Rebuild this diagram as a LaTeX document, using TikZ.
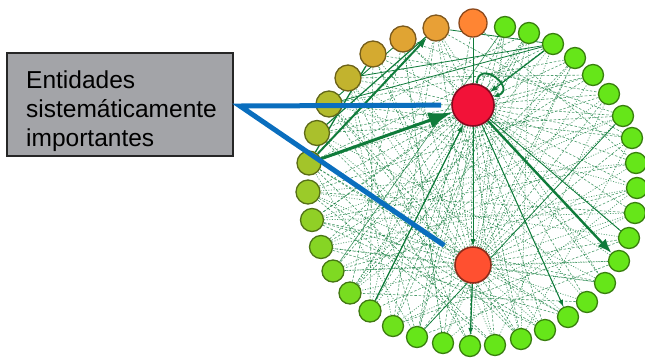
\documentclass[tikz,border=0pt]{standalone}
\usepackage{fontspec}
\setsansfont{Liberation Sans}
\usetikzlibrary{arrows.meta, backgrounds}

\definecolor{rc1}{HTML}{FF8533}
\definecolor{rc2}{HTML}{E8A036}
\definecolor{rc3}{HTML}{E0A433}
\definecolor{rc4}{HTML}{D4AA30}
\definecolor{rc5}{HTML}{C2B32E}
\definecolor{rc6}{HTML}{B3BB2D}
\definecolor{rc7}{HTML}{AAC02C}
\definecolor{rc8}{HTML}{A3C42A}
\definecolor{rc9}{HTML}{9BCB29}
\definecolor{rc10}{HTML}{90D026}
\definecolor{rc11}{HTML}{86D524}
\definecolor{rc12}{HTML}{7FD922}
\definecolor{rc13}{HTML}{78DC20}
\definecolor{rc14}{HTML}{72DF1E}
\definecolor{rc15}{HTML}{6EE21C}
\definecolor{rcg}{HTML}{66E619}
\definecolor{hubred}{HTML}{F21238}
\definecolor{hubtomato}{HTML}{FF5030}
\definecolor{linkgreen}{HTML}{0F7B3A}
\definecolor{pointblue}{HTML}{0A6EBE}
\definecolor{boxgray}{HTML}{A3A4A8}

\tikzset{
  ringnode/.style={circle, draw=#1!55!black, fill=#1, line width=1.3pt, inner sep=0pt},
  hubnode/.style={circle, draw=#1!55!black, fill=#1, line width=1.6pt, inner sep=0pt},
  meshedge/.style={draw=linkgreen, line width=0.6pt, dash pattern=on 2.5pt off 1.8pt, opacity=0.75},
  dotedge/.style={draw=linkgreen, line width=0.7pt, dash pattern=on 1pt off 1.6pt, opacity=0.75},
  linkedge/.style={draw=linkgreen, line width=1pt},
  pointer/.style={draw=pointblue, line width=5pt, line join=miter},
  labelbox/.style={draw=black!85, fill=boxgray, line width=1.2pt, minimum width=226pt, minimum height=103pt},
  labeltext/.style={font=\sffamily\fontsize{24.5}{29}\selectfont, align=left, inner sep=0pt}
}

\begin{document}
\begin{tikzpicture}[x=1pt, y=-1pt]
\useasboundingbox (0,0) rectangle (645,360);

% legend box
\node[labelbox] (box) at (120,104.5) {};
\node[labeltext, anchor=north west] (boxtext) at (26,71) {Entidades\\sistemáticamente\\importantes};

% ring of entities
\node[ringnode=rc1, minimum size=28pt] (r1) at (473,23) {};
\node[ringnode=rc2, minimum size=26pt] (r2) at (436,28) {};
\node[ringnode=rc3, minimum size=26pt] (r3) at (403,39) {};
\node[ringnode=rc4, minimum size=26pt] (r4) at (373,54) {};
\node[ringnode=rc5, minimum size=26pt] (r5) at (348,78) {};
\node[ringnode=rc6, minimum size=26pt] (r6) at (329,104) {};
\node[ringnode=rc7, minimum size=25pt] (r7) at (317,133) {};
\node[ringnode=rc8, minimum size=24pt] (r8) at (309,163) {};
\node[ringnode=rc9, minimum size=24pt] (r9) at (308,192) {};
\node[ringnode=rc10, minimum size=23pt] (r10) at (312,220) {};
\node[ringnode=rc11, minimum size=23pt] (r11) at (321,247) {};
\node[ringnode=rc12, minimum size=22pt] (r12) at (333,271) {};
\node[ringnode=rc13, minimum size=22pt] (r13) at (350,293) {};
\node[ringnode=rc14, minimum size=22pt] (r14) at (370,311) {};
\node[ringnode=rc15, minimum size=21pt] (r15) at (393,326) {};
\node[ringnode=rcg, minimum size=21pt] (r16) at (417,337) {};
\node[ringnode=rcg, minimum size=21pt] (r17) at (443,343) {};
\node[ringnode=rcg, minimum size=21pt] (r18) at (470,346) {};
\node[ringnode=rcg, minimum size=21pt] (r19) at (495,345) {};
\node[ringnode=rcg, minimum size=21pt] (r20) at (521,339) {};
\node[ringnode=rcg, minimum size=21pt] (r21) at (545,330) {};
\node[ringnode=rcg, minimum size=21pt] (r22) at (568,317) {};
\node[ringnode=rcg, minimum size=21pt] (r23) at (587,302) {};
\node[ringnode=rcg, minimum size=21pt] (r24) at (605,283) {};
\node[ringnode=rcg, minimum size=21pt] (r25) at (619,261) {};
\node[ringnode=rcg, minimum size=21pt] (r26) at (629,238) {};
\node[ringnode=rcg, minimum size=21pt] (r27) at (635,213) {};
\node[ringnode=rcg, minimum size=21pt] (r28) at (637,188) {};
\node[ringnode=rcg, minimum size=21pt] (r29) at (636,163) {};
\node[ringnode=rcg, minimum size=21pt] (r30) at (632,138) {};
\node[ringnode=rcg, minimum size=21pt] (r31) at (623,116) {};
\node[ringnode=rcg, minimum size=21pt] (r32) at (609,94) {};
\node[ringnode=rcg, minimum size=21pt] (r33) at (593,75) {};
\node[ringnode=rcg, minimum size=21pt] (r34) at (575,58) {};
\node[ringnode=rcg, minimum size=21pt] (r35) at (553,44) {};
\node[ringnode=rcg, minimum size=21pt] (r36) at (529,33) {};
\node[ringnode=rcg, minimum size=21pt] (r37) at (505,27) {};

% the two hubs
\node[hubnode=hubred, minimum size=42pt] (h1) at (473,105) {};
\node[hubnode=hubtomato, minimum size=36pt] (h2) at (473,265) {};

\begin{scope}[on background layer]
  % dense mesh
  \foreach \i in {2,...,37} \draw[meshedge] (h1) -- (r\i);
  \foreach \i in {1,3,...,37} \draw[dotedge] (h2) -- (r\i);
  \foreach \i in {2,4,...,36} \draw[meshedge] (h2) -- (r\i);
  \foreach \a/\b in {8/35, 8/33, 7/36, 6/34, 5/33, 4/32, 3/31, 2/30, 1/29, 37/12, 36/14, 35/10,
                     34/13, 33/11, 32/9, 31/7, 30/6, 29/10, 28/12, 27/9, 26/15, 25/16, 24/11,
                     23/13, 22/8, 21/10, 20/6, 19/9, 18/5, 17/3, 16/37, 15/36,
                     4/14, 5/16, 6/18, 7/20, 3/13, 2/15, 1/16, 8/19, 9/21, 10/24, 11/22, 12/37}
    \draw[meshedge] (r\a) -- (r\b);
  \foreach \a/\b in {14/34, 13/32, 12/30, 11/28, 10/27, 9/26, 7/24, 6/22, 5/21, 4/19, 3/17,
                     2/20, 20/30, 19/32, 17/28, 15/27, 12/25, 9/29, 11/31, 13/36,
                     13/35, 14/2, 15/5, 16/8, 10/31, 6/28, 5/25, 4/23, 3/26, 2/24, 37/18, 36/20, 34/17}
    \draw[dotedge] (r\a) -- (r\b);
  % main links
  \draw[linkedge, line width=3pt, -{Latex[length=24pt, width=16pt]}] (r8) -- (h1);
  \draw[linkedge, line width=2.4pt, -{Latex[length=14pt, width=11pt]}] (h1) -- (r25);
  \draw[linkedge, line width=2pt, -{Latex[length=10pt, width=8pt]}] (r8) -- (r2);
  \draw[linkedge, line width=1.3pt] (r8) -- (r4);
  \draw[linkedge, line width=1.2pt] (r7) -- (r2);
  \draw[linkedge, line width=0.9pt] (r6) -- (r3);
  \draw[linkedge, line width=1.2pt, -{Latex[length=7pt, width=6pt]}] (r35) -- (h1);
  \draw[linkedge, line width=0.8pt] (r35) -- (r2);
  \draw[linkedge, line width=0.8pt] (r35) -- (r5);
  \draw[linkedge, line width=0.8pt] (r35) -- (r6);
  \draw[linkedge] (r1) -- (h1);
  \draw[linkedge, -{Latex[length=7pt, width=5pt]}] (h1) -- (h2);
  \draw[linkedge, line width=1.2pt, -{Latex[length=7pt, width=5pt]}] (h2) -- (r18);
  \draw[linkedge, line width=1.3pt, -{Latex[length=8pt, width=6pt]}] (r14) -- (h1);
  \draw[linkedge, -{Latex[length=7pt, width=5pt]}] (h1) -- (r22);
  \draw[linkedge, line width=0.8pt] (h1) -- (r26);
  \draw[linkedge, line width=0.8pt] (r31) -- (r16);
  \draw[linkedge, line width=1.8pt, -{Latex[length=6pt, width=5pt]}] (h1.80) .. controls +(2,-26) and +(24,-8) .. (h1.22);
\end{scope}

% pointer from the legend
\coordinate (tip) at (240,106);
\draw[pointer, shorten <=10pt, shorten >=16pt] (h1) -- (tip) -- (h2);
\end{tikzpicture}
\end{document}
